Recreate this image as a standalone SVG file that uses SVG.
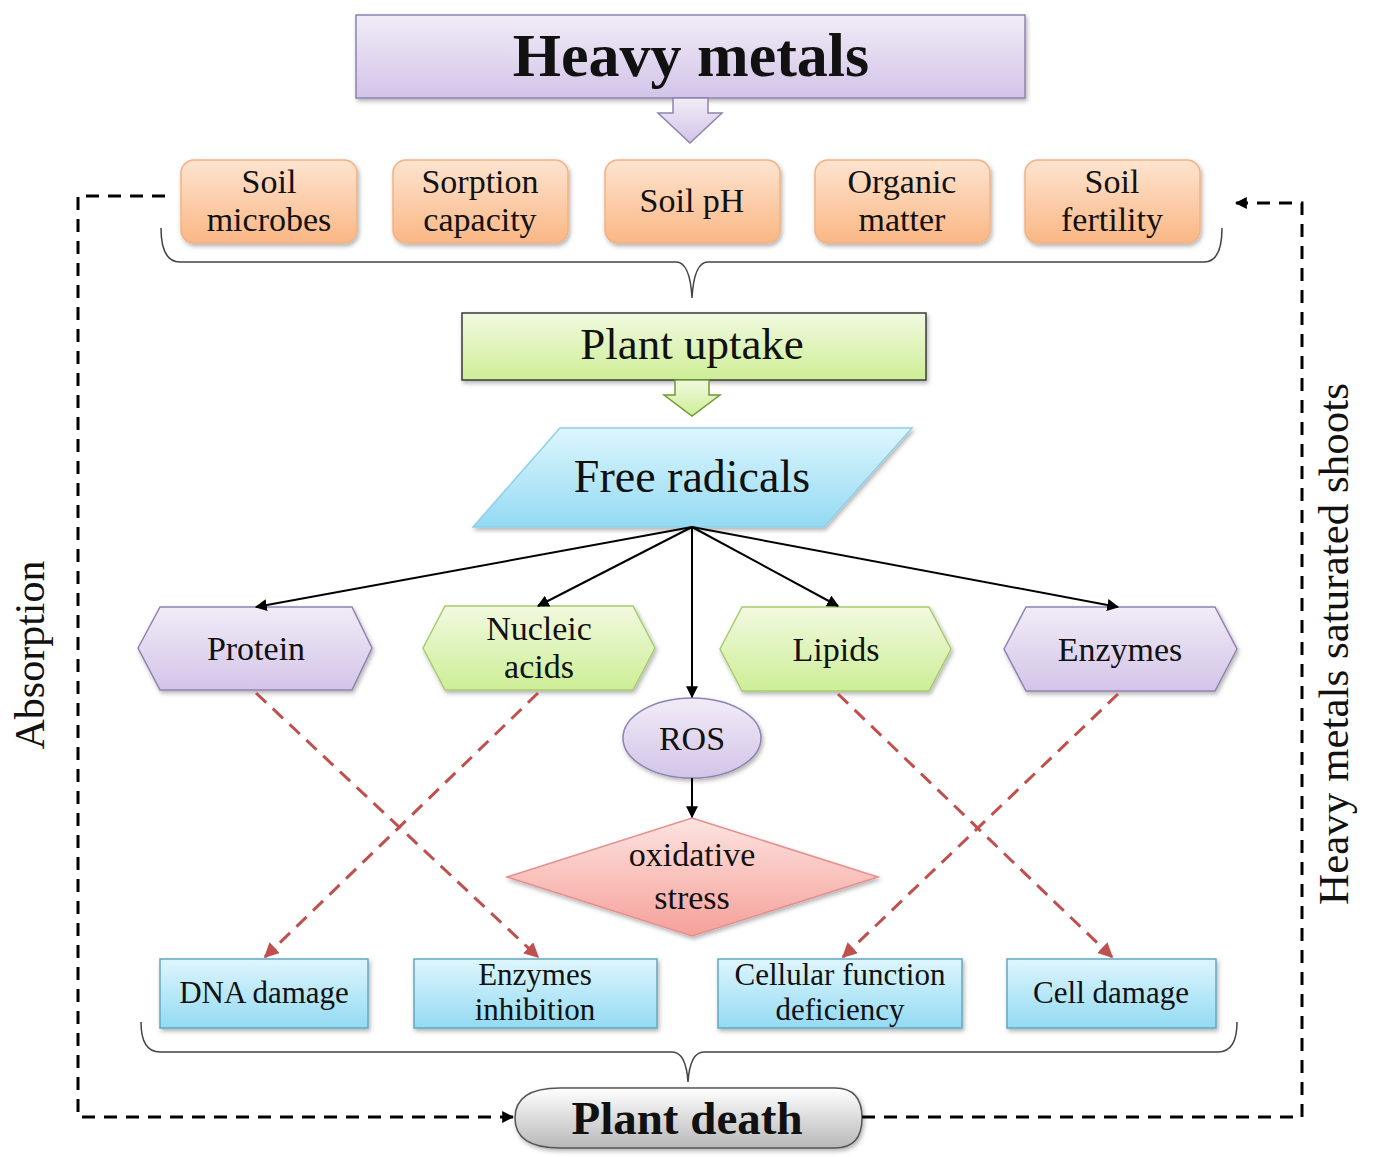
<svg xmlns="http://www.w3.org/2000/svg" width="1373" height="1157" viewBox="0 0 1373 1157">
<defs>
<linearGradient id="gPurple" x1="0" y1="0" x2="0" y2="1"><stop offset="0" stop-color="#f1ecf7"/><stop offset="1" stop-color="#d3c4e8"/></linearGradient>
<linearGradient id="gOrange" x1="0" y1="0" x2="0" y2="1"><stop offset="0" stop-color="#fde4d0"/><stop offset="1" stop-color="#fab784"/></linearGradient>
<linearGradient id="gGreen" x1="0" y1="0" x2="0" y2="1"><stop offset="0" stop-color="#f2f9e0"/><stop offset="1" stop-color="#cdee96"/></linearGradient>
<linearGradient id="gCyan" x1="0" y1="0" x2="0" y2="1"><stop offset="0" stop-color="#def6fd"/><stop offset="1" stop-color="#93daf3"/></linearGradient>
<linearGradient id="gPink" x1="0" y1="0" x2="0" y2="1"><stop offset="0" stop-color="#fde3e0"/><stop offset="1" stop-color="#f6a09a"/></linearGradient>
<linearGradient id="gGray" x1="0" y1="0" x2="0" y2="1"><stop offset="0" stop-color="#ffffff"/><stop offset="1" stop-color="#b8b8b8"/></linearGradient>
<filter id="sh" x="-10%" y="-10%" width="130%" height="140%"><feDropShadow dx="1.5" dy="2.5" stdDeviation="2" flood-color="#000" flood-opacity="0.3"/></filter>
<marker id="ab" viewBox="0 0 10 10" refX="9" refY="5" markerWidth="6" markerHeight="6" orient="auto"><path d="M0,0 L10,5 L0,10 z" fill="#000"/></marker>
<marker id="ar" viewBox="0 0 10 10" refX="9" refY="5" markerWidth="5" markerHeight="5" orient="auto"><path d="M0,0 L10,5 L0,10 z" fill="#c0504d"/></marker>
<marker id="ad" viewBox="0 0 10 10" refX="9" refY="5" markerWidth="4" markerHeight="4" orient="auto"><path d="M0,0 L10,5 L0,10 z" fill="#000"/></marker>
</defs>
<style>
text{font-family:"Liberation Serif","DejaVu Serif",serif;fill:#111;text-anchor:middle}
.purple{fill:url(#gPurple);stroke:#8f82b0;stroke-width:1.5}
.orange{fill:url(#gOrange);stroke:#f2b283;stroke-width:1.5}
.green{fill:url(#gGreen);stroke:#a8cc70;stroke-width:1.5}
.cyan{fill:url(#gCyan);stroke:#62a8c2;stroke-width:1.5}
.pink{fill:url(#gPink);stroke:#e49090;stroke-width:1.5}
.t30{font-size:34px}
.t28{font-size:31px}
.brace{fill:none;stroke:#444;stroke-width:1.5}
.blk{fill:none;stroke:#000;stroke-width:2}
.red{fill:none;stroke:#c0504d;stroke-width:3;stroke-dasharray:14,9}
.dash{fill:none;stroke:#000;stroke-width:3;stroke-dasharray:13,9}
</style>
<rect width="1373" height="1157" fill="#fff"/>

<g id="heavy-metals">
<rect x="356" y="15" width="669" height="83" class="purple" filter="url(#sh)"/>
<path d="M673,98 L708,98 L708,113 L722,113 L690,143 L658,113 L673,113 Z" class="purple"/>
<text x="691" y="76" font-size="62" font-weight="bold">Heavy metals</text>
</g>

<g id="soil-microbes">
<rect x="181" y="160" width="176" height="83" rx="13" class="orange" filter="url(#sh)"/>
<text x="269" y="193" class="t30">Soil</text><text x="269" y="231" class="t30">microbes</text>
</g>
<g id="sorption-capacity">
<rect x="393" y="160" width="175" height="83" rx="13" class="orange" filter="url(#sh)"/>
<text x="480" y="193" class="t30">Sorption</text><text x="480" y="231" class="t30">capacity</text>
</g>
<g id="soil-ph">
<rect x="605" y="160" width="175" height="83" rx="13" class="orange" filter="url(#sh)"/>
<text x="692" y="212" class="t30">Soil pH</text>
</g>
<g id="organic-matter">
<rect x="815" y="160" width="175" height="83" rx="13" class="orange" filter="url(#sh)"/>
<text x="902" y="193" class="t30">Organic</text><text x="902" y="231" class="t30">matter</text>
</g>
<g id="soil-fertility">
<rect x="1025" y="160" width="175" height="83" rx="13" class="orange" filter="url(#sh)"/>
<text x="1112" y="193" class="t30">Soil</text><text x="1112" y="231" class="t30">fertility</text>
</g>

<g id="brace-top">
<path d="M161,228 Q161,262 180,262 L676,262 Q690,262 692,298 Q694,262 708,262 L1204,262 Q1222,262 1222,228" class="brace"/>
</g>

<g id="plant-uptake">
<rect x="462" y="313" width="464" height="67" class="green" style="stroke:#3a3a3a" filter="url(#sh)"/>
<path d="M675,380 L709,380 L709,395 L720,395 L692,416 L664,395 L675,395 Z" class="green" style="stroke:#6f9a35"/>
<text x="692" y="359" font-size="45">Plant uptake</text>
</g>

<g id="free-radicals">
<path d="M560,428 L912,428 L824,527 L473,527 Z" class="cyan" style="stroke:#8fd0ea" filter="url(#sh)"/>
<text x="692" y="492" font-size="46">Free radicals</text>
</g>

<g id="protein">
<path d="M138,648 L160,607 L352,607 L372,648 L352,690 L160,690 Z" class="purple" filter="url(#sh)"/>
<text x="256" y="660" class="t30">Protein</text>
</g>
<g id="nucleic-acids">
<path d="M423,648 L445,606 L633,606 L655,648 L633,690 L445,690 Z" class="green" filter="url(#sh)"/>
<text x="539" y="640" class="t30">Nucleic</text><text x="539" y="678" class="t30">acids</text>
</g>
<g id="lipids">
<path d="M720,649 L742,607 L929,607 L951,649 L929,691 L742,691 Z" class="green" filter="url(#sh)"/>
<text x="836" y="661" class="t30">Lipids</text>
</g>
<g id="enzymes">
<path d="M1004,649 L1026,607 L1215,607 L1237,649 L1215,691 L1026,691 Z" class="purple" filter="url(#sh)"/>
<text x="1120" y="661" class="t30">Enzymes</text>
</g>

<g id="ros">
<ellipse cx="692" cy="738" rx="69" ry="40" class="purple" filter="url(#sh)"/>
<text x="692" y="750" class="t30">ROS</text>
</g>

<g id="oxidative-stress">
<path d="M692,818 L878,877 L692,936 L507,877 Z" class="pink" filter="url(#sh)"/>
<text x="692" y="866" class="t30">oxidative</text><text x="692" y="909" class="t30">stress</text>
</g>

<g id="dna-damage">
<rect x="160" y="959" width="208" height="69" class="cyan" filter="url(#sh)"/>
<text x="264" y="1003" class="t28">DNA damage</text>
</g>
<g id="enzymes-inhibition">
<rect x="414" y="959" width="243" height="69" class="cyan" filter="url(#sh)"/>
<text x="535" y="985" class="t28">Enzymes</text><text x="535" y="1020" class="t28">inhibition</text>
</g>
<g id="cellular-function-deficiency">
<rect x="718" y="959" width="244" height="69" class="cyan" filter="url(#sh)"/>
<text x="840" y="985" class="t28">Cellular  function</text><text x="840" y="1020" class="t28">deficiency</text>
</g>
<g id="cell-damage">
<rect x="1007" y="959" width="209" height="69" class="cyan" filter="url(#sh)"/>
<text x="1111" y="1003" class="t28">Cell damage</text>
</g>

<g id="brace-bottom">
<path d="M141,1022 Q141,1052 160,1052 L672,1052 Q686,1052 688,1082 Q690,1052 704,1052 L1218,1052 Q1237,1052 1237,1022" class="brace"/>
</g>

<g id="plant-death">
<path d="M560,1088 L835,1088 Q862,1088 862,1118 Q862,1148 835,1148 L560,1148 Q515,1148 515,1118 Q515,1088 560,1088 Z" fill="url(#gGray)" stroke="#555" stroke-width="1.5" filter="url(#sh)"/>
<text x="687" y="1134" font-size="47" font-weight="bold">Plant death</text>
</g>

<g id="labels">
<text transform="translate(44,655) rotate(-90)" font-size="42">Absorption</text>
<text transform="translate(1348,644) rotate(-90)" font-size="43">Heavy metals saturated shoots</text>
</g>

<g id="connectors">
<line x1="692" y1="527" x2="256" y2="607" class="blk" marker-end="url(#ab)"/>
<line x1="692" y1="527" x2="538" y2="606" class="blk" marker-end="url(#ab)"/>
<line x1="692" y1="527" x2="692" y2="697" class="blk" marker-end="url(#ab)"/>
<line x1="692" y1="527" x2="838" y2="606" class="blk" marker-end="url(#ab)"/>
<line x1="692" y1="527" x2="1118" y2="607" class="blk" marker-end="url(#ab)"/>
<line x1="692" y1="778" x2="692" y2="817" class="blk" marker-end="url(#ab)"/>
<line x1="256" y1="693" x2="538" y2="957" class="red" marker-end="url(#ar)"/>
<line x1="538" y1="693" x2="265" y2="957" class="red" marker-end="url(#ar)"/>
<line x1="838" y1="694" x2="1112" y2="957" class="red" marker-end="url(#ar)"/>
<line x1="1118" y1="694" x2="843" y2="957" class="red" marker-end="url(#ar)"/>
<path d="M165,196 L78,196 L78,1117 L513,1117" class="dash" marker-end="url(#ad)"/>
<path d="M862,1117 L1302,1117 L1302,203 L1236,203" class="dash" marker-end="url(#ad)"/>
</g>
</svg>
